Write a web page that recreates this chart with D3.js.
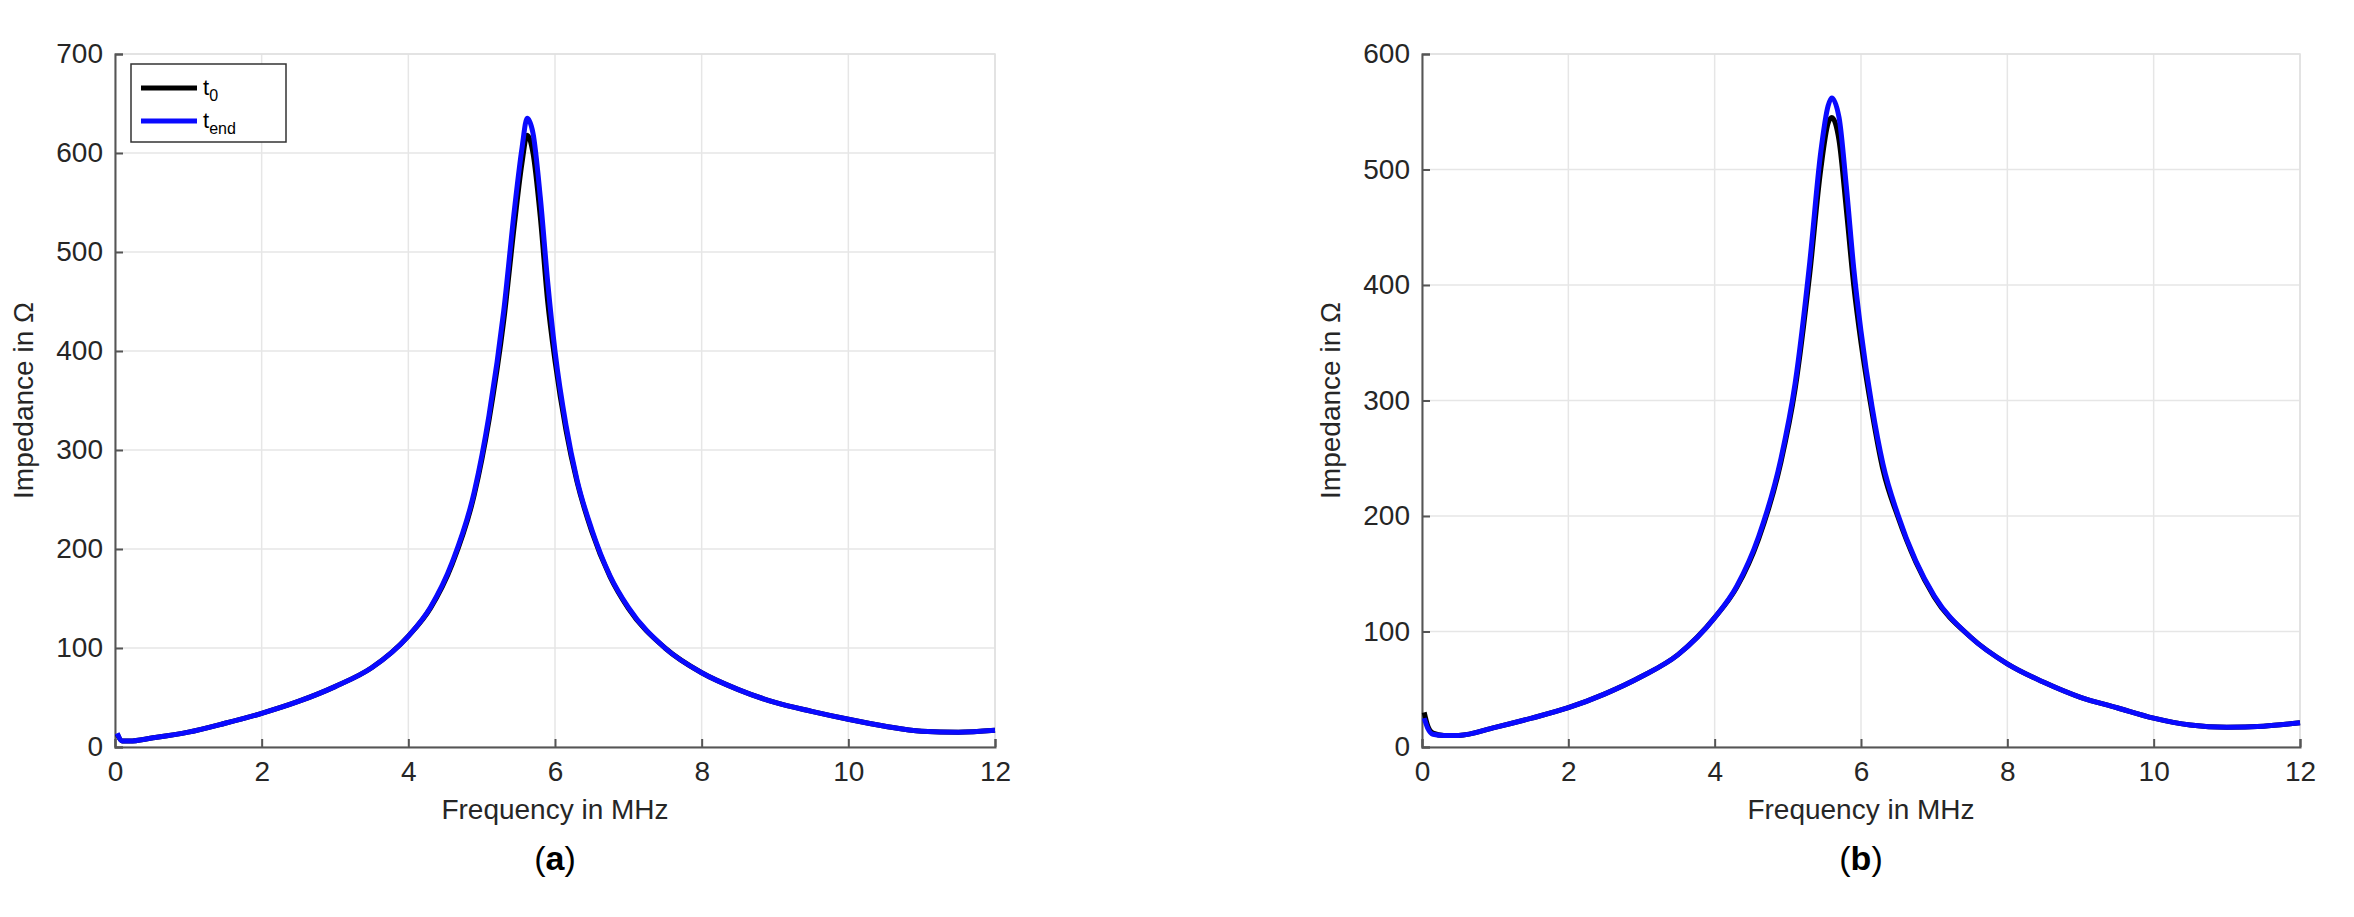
<!DOCTYPE html>
<html><head><meta charset="utf-8">
<script src="https://cdn.jsdelivr.net/npm/d3@7"></script>
<style>body{margin:0;background:#fff}text{font-family:"Liberation Sans",Arial,sans-serif}</style>
</head><body><svg id="c" width="2354" height="917"></svg>
<script>
// frequency in MHz, impedance in ohm
const freqA = [0.03,0.1,0.2,0.5,1,1.5,2,2.5,3,3.5,4,4.3,4.6,4.9,5.1,5.3,5.45,5.55,5.62,5.7,5.8,5.9,6,6.15,6.3,6.5,6.75,7,7.5,8,8.5,9,9.5,10,10.5,11,11.5,12];
const t0A   = [13,6,6,9,15,24,34,46,61,80,112,140,185,255,330,430,530,590,618,600,535,450,390,320,268,218,172,140,100,75,58,45,36,28,21,16,15,17];
const tEndA = [14,6,6,9,15,24,34,46,61,80,112,141,187,258,335,440,545,605,635,620,555,470,400,325,270,220,173,141,100,75,58,45,36,28,21,16,15,17];
const freqB = [0.03,0.08,0.15,0.3,0.5,1,1.5,2,2.5,3,3.5,4,4.3,4.6,4.9,5.1,5.3,5.45,5.55,5.6,5.7,5.8,5.9,6,6.15,6.3,6.5,6.75,7,7.5,8,8.5,9,9.5,10,10.5,11,11.5,12];
const t0B   = [30,18,12,10,10,17,25,34,46,61,80,112,138,180,245,310,410,500,540,545,525,465,400,350,290,240,200,160,130,95,72,56,43,34,25,19,17,18,21];
const tEndB = [25,16,11,10,10,17,25,34,46,61,80,112,139,182,248,315,420,515,555,562,545,485,415,360,295,245,202,161,131,95,72,56,43,34,25,19,17,18,21];
const xTicks = [0,2,4,6,8,10,12];
const yTicksA = [0,100,200,300,400,500,600,700];
const yTicksB = [0,100,200,300,400,500,600];

const svg = d3.select("#c");
function panel(x0, x1, yMax, yTicks, fr, a, b, label, legend) {
  const top = 54, bottom = 747;
  const x = d3.scaleLinear().domain([0,12]).range([x0,x1]);
  const y = d3.scaleLinear().domain([0,yMax]).range([bottom,top]);
  const g = svg.append("g");
  g.selectAll(".gx").data(xTicks).join("line").attr("x1",d=>x(d)).attr("x2",d=>x(d)).attr("y1",top).attr("y2",bottom).attr("stroke","#e6e6e6").attr("stroke-width",1.5);
  g.selectAll(".gy").data(yTicks).join("line").attr("y1",d=>y(d)).attr("y2",d=>y(d)).attr("x1",x0).attr("x2",x1).attr("stroke","#e6e6e6").attr("stroke-width",1.5);
  g.append("rect").attr("x",x0).attr("y",top).attr("width",x1-x0).attr("height",bottom-top).attr("fill","none").attr("stroke","#e0e0e0").attr("stroke-width",1.5);
  const ax = g.append("g").attr("transform",`translate(0,${bottom})`).call(d3.axisBottom(x).tickValues(xTicks).tickSize(-8).tickPadding(14));
  const ay = g.append("g").attr("transform",`translate(${x0},0)`).call(d3.axisLeft(y).tickValues(yTicks).tickSize(-8).tickPadding(12));
  [ax,ay].forEach(a=>{a.selectAll("path,line").attr("stroke","#555").attr("stroke-width",2);a.selectAll("text").attr("font-size",28).attr("fill","#262626").attr("font-family","Liberation Sans, Arial");});
  g.append("text").attr("x",(x0+x1)/2).attr("y",bottom+72).attr("text-anchor","middle").attr("font-size",28).attr("fill","#262626").text("Frequency in MHz");
  g.append("text").attr("transform",`translate(${x0-82},${(top+bottom)/2}) rotate(-90)`).attr("text-anchor","middle").attr("font-size",28).attr("fill","#262626").text("Impedance in Ω");
  const line = vals => d3.line().x((d,i)=>x(fr[i])).y(d=>y(d)).curve(d3.curveMonotoneX)(vals);
  g.append("path").attr("d",line(a)).attr("fill","none").attr("stroke","#000").attr("stroke-width",5);
  g.append("path").attr("d",line(b)).attr("fill","none").attr("stroke","#0a0aff").attr("stroke-width",5);
  const lt = g.append("text").attr("x",(x0+x1)/2).attr("y",870).attr("text-anchor","middle").attr("font-family","Liberation Serif, serif").attr("font-size",34).attr("fill","#000");
  lt.append("tspan").text("(");lt.append("tspan").attr("font-weight","bold").text(label);lt.append("tspan").text(")");
  if (legend) {
    const lg = g.append("g").attr("transform",`translate(${x0+16},64)`);
    lg.append("rect").attr("width",155).attr("height",78).attr("fill","#fff").attr("stroke","#333").attr("stroke-width",1.5);
    [["#000","t","0"],["#0a0aff","t","end"]].forEach((d,i)=>{
      const yy = 24+i*33;
      lg.append("line").attr("x1",10).attr("x2",66).attr("y1",yy).attr("y2",yy).attr("stroke",d[0]).attr("stroke-width",5);
      const t = lg.append("text").attr("x",72).attr("y",yy+7).attr("font-size",22).attr("fill","#000");
      t.append("tspan").text(d[1]);t.append("tspan").attr("dy",6).attr("font-size",16).text(d[2]);
    });
  }
}
panel(115, 995, 700, yTicksA, freqA, t0A, tEndA, "a", true);
panel(1422, 2300, 600, yTicksB, freqB, t0B, tEndB, "b", false);
</script></body></html>
